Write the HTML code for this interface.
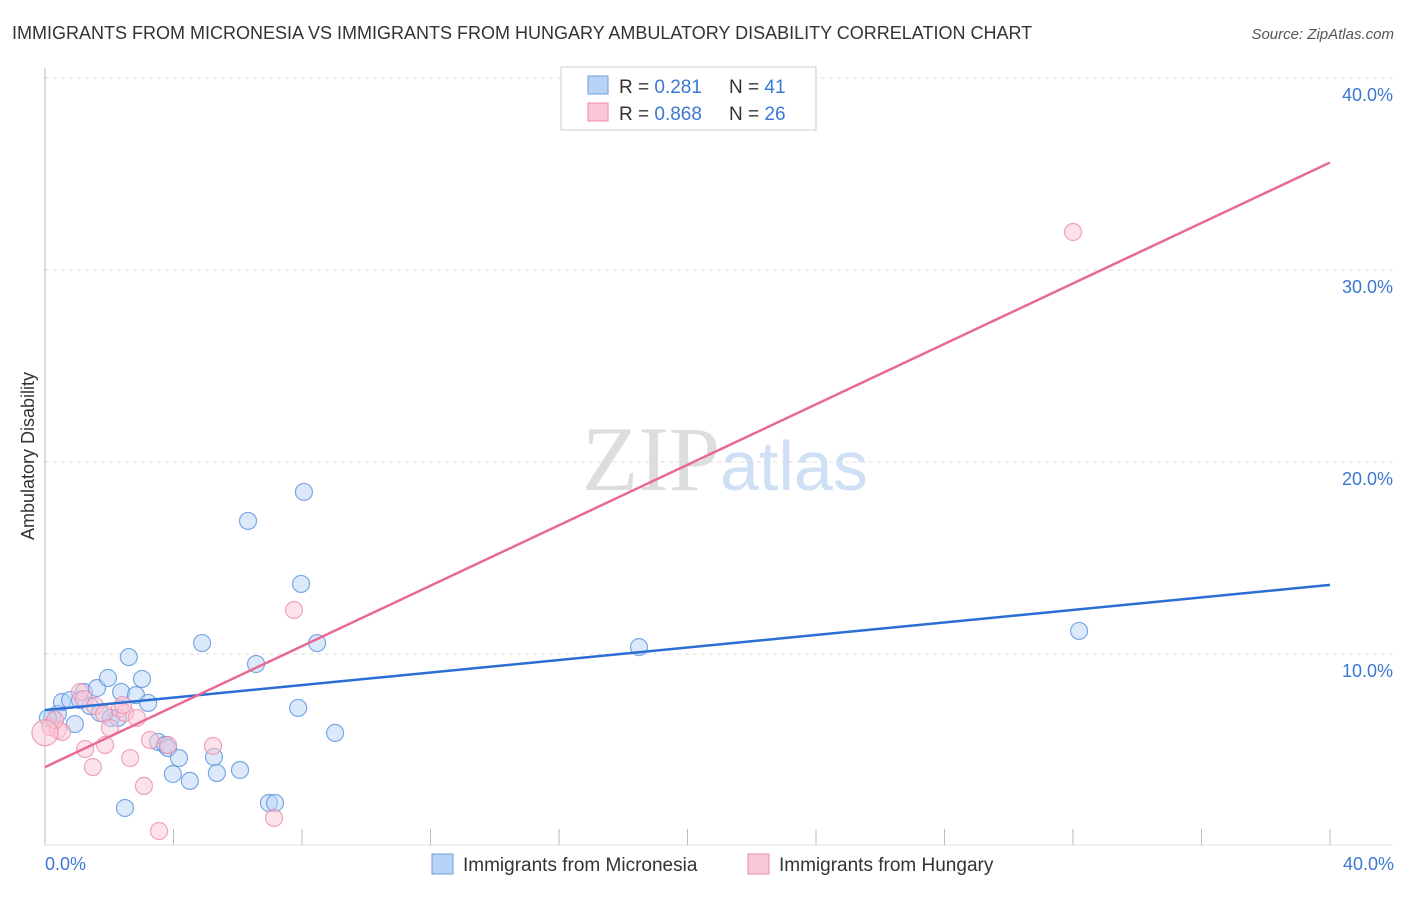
<!DOCTYPE html>
<html><head><meta charset="utf-8"><style>
body{margin:0;background:#fff;font-family:"Liberation Sans",sans-serif}
</style></head><body>
<svg width="1406" height="892" xmlns="http://www.w3.org/2000/svg" font-family="Liberation Sans, sans-serif">
<text x="12" y="39" font-size="18" fill="#333">IMMIGRANTS FROM MICRONESIA VS IMMIGRANTS FROM HUNGARY AMBULATORY DISABILITY CORRELATION CHART</text>
<text x="1394" y="39" font-size="15" fill="#555" font-style="italic" text-anchor="end">Source: ZipAtlas.com</text>
<text x="720" y="490" font-size="92" fill="#ddd" text-anchor="end" font-family="Liberation Serif, serif">ZIP</text>
<text x="720" y="490" font-size="70" fill="#cfe0f5">atlas</text>
<g id="grid"></g>
<g id="marks"></g>
<text transform="translate(34,456) rotate(-90)" font-size="18" fill="#333" text-anchor="middle">Ambulatory Disability</text>
<text x="45" y="870" font-size="18" fill="#3b78d4">0.0%</text>
<text x="1394" y="870" font-size="18" fill="#3b78d4" text-anchor="end">40.0%</text>
<g>
<rect x="561" y="67" width="255" height="63" fill="#fff" stroke="#ccc"/>
<rect x="588" y="76" width="20" height="18" fill="#b8d3f5" stroke="#6d9fe0"/>
<rect x="588" y="103" width="20" height="18" fill="#f9c8d6" stroke="#ea8eaa"/>
<text x="619" y="93" font-size="19" fill="#333">R = <tspan fill="#3b78d4">0.281</tspan><tspan x="729">N = </tspan><tspan fill="#3b78d4">41</tspan></text>
<text x="619" y="120" font-size="19" fill="#333">R = <tspan fill="#3b78d4">0.868</tspan><tspan x="729">N = </tspan><tspan fill="#3b78d4">26</tspan></text>
</g>
<g>
<rect x="432" y="854" width="21" height="20" fill="#b8d3f5" stroke="#6d9fe0"/>
<text x="463" y="871" font-size="19" fill="#333">Immigrants from Micronesia</text>
<rect x="748" y="854" width="21" height="20" fill="#f9c8d6" stroke="#ea8eaa"/>
<text x="779" y="871" font-size="19" fill="#333">Immigrants from Hungary</text>
</g>
</svg>
<script>
const yTicks=[10,20,30,40];
const yTickLabels=["10.0%","20.0%","30.0%","40.0%"];
const xTicks=[0,4,8,12,16,20,24,28,32,36,40];
const blueX=[0.22,0.40,0.93,0.53,0.78,1.21,1.62,1.40,1.71,1.96,2.37,2.61,2.83,3.02,3.21,2.05,2.27,3.52,3.74,3.83,4.17,3.98,4.51,5.26,5.35,6.07,4.89,6.57,6.32,8.06,7.97,8.47,7.88,9.03,6.97,7.16,2.49,18.49,32.19,1.09,0.09];
const blueY=[6.72,6.88,6.35,7.5,7.6,8.02,8.23,7.29,6.93,8.75,8.02,9.84,7.86,8.7,7.45,6.67,6.67,5.42,5.26,5.1,4.58,3.75,3.39,4.64,3.8,3.96,10.57,9.48,16.93,18.44,13.65,10.57,7.19,5.89,2.24,2.24,1.98,10.36,11.2,7.6,6.67];
const pinkX=[0.16,0.40,0.53,1.09,1.21,1.56,1.84,2.33,2.49,2.43,2.02,2.86,3.27,3.83,5.23,1.87,1.25,1.49,2.65,3.08,3.55,7.13,7.75,32.0,0.31,0];
const pinkY=[6.2,6.04,5.94,8.02,7.66,7.29,6.88,7.14,6.93,7.34,6.15,6.67,5.52,5.26,5.21,5.26,5.05,4.11,4.58,3.13,0.78,1.46,12.29,31.98,6.56,5.9];
const blueLine=[7.08,13.6];
const pinkLine=[4.11,35.6];
const NS="http://www.w3.org/2000/svg";
const sx=v=>45+v/40*1285, sy=v=>846-v*19.2;
function mk(t,a,p){const e=document.createElementNS(NS,t);for(const k in a)e.setAttribute(k,a[k]);p.appendChild(e);return e;}
const g=document.getElementById('grid'), m=document.getElementById('marks');
yTicks.forEach((t,i)=>{
 const l=mk('line',{x1:45,x2:1393,y1:sy(t),y2:sy(t),stroke:'#ddd','stroke-dasharray':'4,4'},g);
 
 
 const tx=mk('text',{x:1393,y:sy(t)+23,'font-size':18,fill:'#3b78d4','text-anchor':'end'},g);
 tx.textContent=yTickLabels[i];
 
 
});
const ax=mk('line',{x1:45,x2:45,y1:68,y2:845,stroke:'#bbb'},g);


const bx=mk('line',{x1:45,x2:1393,y1:845,y2:845,stroke:'#ddd'},g);


xTicks.forEach(t=>{
 const l=mk('line',{x1:sx(t),x2:sx(t),y1:829,y2:845,stroke:'#bbb'},g);
 
 
});
function pts(X,Y,fill,stroke,name){
 X.forEach((x,i)=>{
  const c=mk('circle',{cx:sx(x),cy:sy(Y[i]),r:(x===0?13:8.5),fill:fill,'fill-opacity':0.5,stroke:stroke,'stroke-opacity':0.8,'stroke-width':1.2},m);
  
  
 });
}
pts(blueX,blueY,'#b8d3f5','#5b93de','micronesia-point');
pts(pinkX,pinkY,'#f9c8d6','#ec8fac','hungary-point');
const bl=mk('line',{x1:sx(0),y1:sy(blueLine[0]),x2:sx(40),y2:sy(blueLine[1]),stroke:'#2a6fd4','stroke-width':2.5},m);


const pl=mk('line',{x1:sx(0),y1:sy(pinkLine[0]),x2:sx(40),y2:sy(pinkLine[1]),stroke:'#e86a94','stroke-width':2.5},m);


</script>
</body></html>
